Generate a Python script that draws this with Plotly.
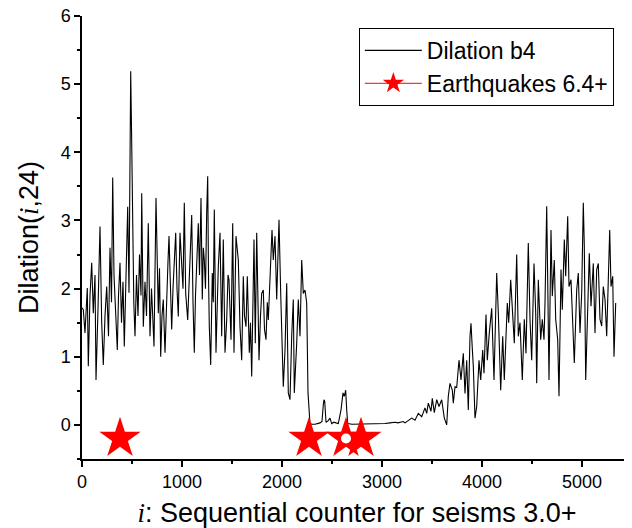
import plotly.graph_objects as go

# Dilation b4 series: sequential counter i and Dilation(i,24) values
dil_i = [0, 13, 30, 53, 63, 80, 97, 113, 130, 140, 160, 180, 197, 213, 230, 247, 265, 280, 295, 307,
         320, 335, 353, 365, 380, 395, 410, 423, 440, 457, 470, 480, 487, 497, 507, 518, 530, 545, 560, 575,
         590, 597, 613, 630, 645, 663, 680, 695, 710, 720, 740, 753,
         763, 775, 787, 800, 813, 830, 847, 860, 870, 885, 897, 910, 923, 937, 950, 963, 980, 997, 1010, 1023,
         1037, 1057, 1070, 1080, 1097, 1110, 1123, 1135, 1147, 1163, 1175, 1190, 1203, 1213, 1223, 1235, 1247,
         1257, 1265, 1273, 1287, 1303, 1313, 1323, 1340, 1352, 1363, 1380, 1397, 1413, 1430, 1447, 1460, 1470,
         1490, 1507,
         1520, 1540, 1563, 1580, 1597, 1613, 1625, 1640, 1653, 1673, 1685, 1697, 1710, 1720, 1733, 1747, 1760,
         1770, 1785, 1797, 1813, 1825, 1840, 1853, 1863, 1880, 1900, 1913, 1930, 1947, 1960, 1970, 1987, 2003,
         2013, 2030, 2047, 2063, 2080, 2097, 2113, 2123, 2135, 2147, 2163, 2180, 2197, 2213, 2230, 2247, 2260,
         2270,
         2280, 2300, 2330, 2380, 2400, 2413, 2420, 2427, 2440, 2460, 2480, 2497, 2520, 2540, 2563, 2590, 2610,
         2623, 2637, 2647, 2657, 2700, 2800, 2900, 3000, 3030, 3080, 3130, 3160, 3213,
         3230, 3263, 3297, 3330, 3363, 3397, 3430, 3447, 3463, 3490, 3503, 3523, 3547, 3570, 3597, 3623, 3647,
         3663, 3680, 3703, 3713, 3730, 3747, 3770, 3790, 3813, 3830, 3847, 3863, 3880, 3890, 3900, 3913, 3930,
         3947, 3970, 3987, 4007, 4020, 4040, 4053, 4073, 4097, 4120, 4147, 4163, 4187, 4207, 4223, 4253, 4267,
         4287, 4307, 4323, 4347, 4363, 4380, 4403, 4423, 4440, 4463, 4480, 4497, 4520, 4537, 4547, 4563, 4587,
         4603, 4620,
         4630, 4647, 4657, 4670, 4690, 4703, 4723, 4737, 4757, 4770, 4790, 4803, 4823, 4837, 4857, 4870, 4890,
         4913, 4923, 4947, 4963, 4980, 4997, 5013, 5023, 5037, 5057, 5073, 5090, 5113, 5130, 5147, 5163, 5180,
         5197, 5213, 5230, 5247, 5263, 5277, 5290, 5307, 5320, 5337]

dil_val = [1.72, 1.69, 1.35, 2.01, 0.86, 1.9, 2.38, 1.64, 2.2, 0.66, 1.7, 2.91, 1.5, 0.88, 1.6, 2.03, 1.3, 2.6, 1.8, 3.63,
           2.2, 1.6, 1.10, 1.9, 2.38, 1.5, 2.1, 1.15, 2.0, 3.2, 1.94, 3.7, 5.19, 4.14, 2.45, 1.8, 1.30, 2.2, 1.6, 2.5,
           1.9, 3.40, 1.44, 2.1, 1.6, 2.96, 1.30, 2.0, 1.5, 1.15, 3.33, 2.08,
           1.64, 2.3, 1.00, 1.6, 1.84, 1.06, 1.98, 2.4, 2.77, 1.9, 1.40, 2.0, 2.47, 2.82, 2.0, 1.59, 2.82, 2.42, 2.0, 3.26,
           1.93, 1.54, 2.1, 2.42, 3.08, 1.8, 1.06, 1.9, 2.32, 2.96, 2.2, 3.33, 1.84, 2.6, 2.42, 2.0, 3.13,
           3.65, 2.2, 1.44, 0.88, 2.23, 1.8, 3.16, 1.06, 1.9, 2.32, 2.82, 1.30, 2.72, 1.06, 1.54, 2.2, 2.13,
           1.25, 2.96,
           1.06, 2.77, 2.42, 1.44, 0.95, 2.18, 1.6, 1.44, 2.18, 1.06, 1.5, 0.71, 1.9, 2.72, 1.20, 2.82, 1.8,
           0.95, 1.6, 1.93, 1.98, 1.4, 1.25, 1.8, 1.54, 2.13, 2.86, 2.42, 2.77, 1.84, 2.5, 3.01, 1.93, 0.76,
           0.56, 1.10, 2.08, 0.47, 0.37, 1.30, 1.84, 0.47, 1.0, 1.20, 1.84, 1.30, 2.42, 1.93, 1.98, 1.79, 0.47,
           0.12,
           0.02, 0.01, 0.01, 0.03, 0.05, 0.30, 0.37, 0.35, 0.04, 0.06, 0.10, 0.02, 0.04, 0.03, 0.02, 0.22, 0.47,
           0.42, 0.51, 0.22, 0.02, 0.01, 0.01, 0.01, 0.01, 0.02, 0.03, 0.04, 0.03, 0.05,
           0.03, 0.07, 0.10, 0.07, 0.17, 0.12, 0.25, 0.17, 0.32, 0.20, 0.39, 0.18, 0.37, 0.27, 0.37, 0.10, 0.0,
           0.42, 0.61, 0.51, 0.32, 0.56, 0.55, 0.95, 0.66, 1.05, 0.46, 0.95, 0.22, 1.30, 1.49, 1.2, 0.86, 0.10,
           0.27, 0.95, 0.66, 1.10, 0.76, 1.62, 0.95, 1.35, 1.71, 0.66, 2.23, 1.65, 0.51, 1.30, 0.66, 1.79, 1.50,
           2.13, 1.55, 1.20, 2.50, 1.30, 1.50, 0.66, 1.55, 1.05, 2.67, 1.55, 0.95, 2.37, 1.65, 0.61, 2.13, 1.25,
           1.55, 1.25,
           1.79, 3.21, 2.13, 0.66, 2.86, 1.89, 2.42, 1.55, 1.25, 0.42, 2.28, 1.69, 2.72, 2.18, 3.06, 2.03, 2.13,
           1.15, 0.91, 1.98, 2.23, 1.35, 1.94, 3.26, 2.62, 0.66, 1.55, 2.52, 1.74, 2.37, 1.35, 2.28, 2.37, 1.55,
           1.45, 2.03, 1.84, 1.30, 2.13, 2.86, 2.03, 2.18, 1.00, 1.79]

# Earthquakes 6.4+ (sequential counter positions)
eq_i = [380, 2270, 2640, 2790]
eq_val = [-0.2, -0.2, -0.2, -0.2]

x_ticks = [0, 1000, 2000, 3000, 4000, 5000]
y_ticks = [0, 1, 2, 3, 4, 5, 6]

FONT = "Arial, 'Liberation Sans', sans-serif"

# break the legend line between stars so only markers show on the plot
eq_x_plot, eq_y_plot = [], []
for xi, yi in zip(eq_i, eq_val):
    eq_x_plot += [xi, None]
    eq_y_plot += [yi, None]

fig = go.Figure()
fig.add_trace(go.Scatter(
    x=dil_i, y=dil_val, mode="lines", name="Dilation b4",
    line=dict(color="black", width=1.1)))
fig.add_trace(go.Scatter(
    x=eq_x_plot, y=eq_y_plot, mode="lines+markers", name="Earthquakes 6.4+",
    connectgaps=False,
    line=dict(color="red", width=1),
    marker=dict(symbol="star", size=31, color="red", line=dict(width=0))))
fig.add_trace(go.Scatter(
    x=[eq_i[2]], y=[eq_val[2]], mode="markers", showlegend=False,
    marker=dict(symbol="circle", size=10, color="white", line=dict(width=0))))

axis_common = dict(
    showline=True, linecolor="black", linewidth=1.5,
    ticks="outside", ticklen=6, tickwidth=1.5, tickcolor="black",
    showgrid=False, zeroline=False, automargin=False,
    ticklabeloverflow="allow",
    tickfont=dict(family=FONT, size=18, color="black"),
)

# page body has an 8px default margin, so the figure is sized to the visible area
fig.update_layout(
    width=624, height=520,
    margin=dict(l=74, r=0, t=8, b=69),
    paper_bgcolor="white", plot_bgcolor="white",
    font=dict(family=FONT, color="black"),
    xaxis=dict(range=[0, 5500], tickvals=x_ticks,
               minor=dict(dtick=500, ticklen=3, tickwidth=1.5, tickcolor="black", ticks="outside"),
               title=dict(text="<span style='font-family:Liberation Serif'><i>i</i></span>: Sequential counter for seisms 3.0+",
                          font=dict(family=FONT, size=27, color="black"), standoff=12),
               **axis_common),
    yaxis=dict(range=[-0.5, 6], tickvals=y_ticks,
               minor=dict(dtick=0.5, ticklen=3, tickwidth=1.5, tickcolor="black", ticks="outside"),
               title=dict(text="Dilation(<span style='font-family:Liberation Serif'><i>i</i></span>,24)",
                          font=dict(family=FONT, size=27, color="black"), standoff=14),
               **axis_common),
    legend=dict(x=0.967, y=0.973, xanchor="right", yanchor="top",
                bgcolor="white", bordercolor="black", borderwidth=1,
                font=dict(family=FONT, size=23, color="black"),
                itemwidth=57, tracegroupgap=0),
    showlegend=True,
)

fig.write_html("out.html")
